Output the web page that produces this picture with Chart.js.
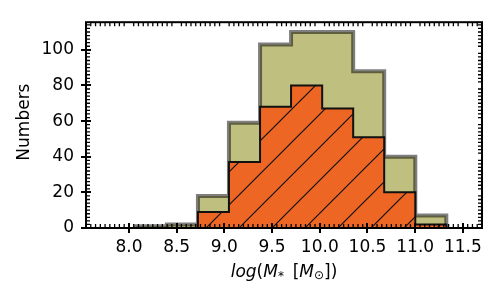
<!DOCTYPE html>
<html lang="en">
<head>
    <meta charset="UTF-8">
    <title>Stellar mass histogram</title>
    <script src="https://cdn.jsdelivr.net/npm/chart.js"></script>
    <style>
        html, body { margin: 0; padding: 0; background: #fff; }
        #wrap { width: 500px; height: 300px; }
    </style>
</head>
<body>
    <div id="wrap"><canvas id="histChart" width="500" height="300"></canvas></div>

    <script>
        // bin edges (log stellar mass) and counts
        const binEdges = [8.072, 8.398, 8.723, 9.048, 9.374, 9.699, 10.025, 10.350, 10.675, 11.001, 11.326];
        const allCounts = [1, 2, 18, 59, 103, 110, 110, 88, 40, 7];
        const subCounts = [0, 0, 9, 37, 68, 80, 67, 51, 20, 2];

        const xTicks = [8.0, 8.5, 9.0, 9.5, 10.0, 10.5, 11.0, 11.5];
        const yTicks = [0, 20, 40, 60, 80, 100];

        const FONT = 'DejaVu Sans';

        function stepPoints(edges, counts) {
            const pts = [{ x: edges[0], y: 0 }];
            counts.forEach((c, i) => pts.push({ x: edges[i], y: c }));
            pts.push({ x: edges[edges.length - 1], y: 0 });
            return pts;
        }

        // orange fill with "/" hatch
        function makeHatch() {
            const s = 33;
            const c = document.createElement('canvas');
            c.width = s; c.height = s;
            const g = c.getContext('2d');
            g.fillStyle = '#ee6624';
            g.fillRect(0, 0, s, s);
            g.strokeStyle = '#111';
            g.lineWidth = 1.2;
            g.beginPath();
            g.moveTo(-2, s + 2); g.lineTo(s + 2, -2);
            g.moveTo(-2, 2); g.lineTo(2, -2);
            g.moveTo(s - 2, s + 2); g.lineTo(s + 2, s - 2);
            g.stroke();
            const p = g.createPattern(c, 'repeat');
            if (p.setTransform) p.setTransform(new DOMMatrix().translate(5, 0));
            return p;
        }

        const decor = {
            id: 'decor',
            afterDraw(chart) {
                const ctx = chart.ctx;
                const a = chart.chartArea;
                const xs = chart.scales.x, ys = chart.scales.y;
                ctx.save();
                ctx.setTransform(1, 0, 0, 1, 0, 0);
                ctx.globalAlpha = 1;
                ctx.setLineDash([]);
                ctx.strokeStyle = '#000';

                // minor ticks, inward on all four sides
                ctx.lineWidth = 1.3;
                ctx.beginPath();
                for (let k = Math.ceil(xs.min / 0.05); k <= Math.floor(xs.max / 0.05); k++) {
                    if (k % 10 === 0) continue;
                    const px = xs.getPixelForValue(k * 0.05);
                    ctx.moveTo(px, a.bottom); ctx.lineTo(px, a.bottom - 4);
                    ctx.moveTo(px, a.top); ctx.lineTo(px, a.top + 4);
                }
                for (let v = 2; v < ys.max; v += 2) {
                    if (v % 20 === 0) continue;
                    const py = ys.getPixelForValue(v);
                    ctx.moveTo(a.left, py); ctx.lineTo(a.left + 4, py);
                    ctx.moveTo(a.right, py); ctx.lineTo(a.right - 4, py);
                }
                ctx.stroke();

                // major ticks, in-out on bottom and left
                ctx.lineWidth = 2;
                ctx.beginPath();
                xTicks.forEach(v => {
                    const px = Math.round(xs.getPixelForValue(v));
                    ctx.moveTo(px, a.bottom - 5); ctx.lineTo(px, a.bottom + 5);
                });
                yTicks.forEach(v => {
                    const py = Math.round(ys.getPixelForValue(v));
                    ctx.moveTo(a.left - 5, py); ctx.lineTo(a.left + 5, py);
                });
                ctx.stroke();

                // frame
                ctx.lineWidth = 2;
                ctx.strokeRect(a.left, a.top, a.right - a.left, a.bottom - a.top);

                // y title
                ctx.fillStyle = '#000';
                ctx.font = '17px "' + FONT + '"';
                ctx.textAlign = 'center';
                ctx.textBaseline = 'middle';
                ctx.translate(25, (a.top + a.bottom) / 2 - 3);
                ctx.rotate(-Math.PI / 2);
                ctx.fillText('Numbers', 0, 0);
                ctx.setTransform(1, 0, 0, 1, 0, 0);

                // x title: log(M_* [M_sun])
                const parts = [
                    { t: 'log', f: 'italic 17px', dy: 0 },
                    { t: '(', f: '17px', dy: 0 },
                    { t: 'M', f: 'italic 17px', dy: 0 },
                    { t: '*', f: '12px', dy: 3 },
                    { t: '\u2009 [', f: '17px', dy: 0 },
                    { t: 'M', f: 'italic 17px', dy: 0 },
                    { t: '\u2299', f: '12px', dy: 2 },
                    { t: '])', f: '17px', dy: 0 }
                ];
                ctx.textAlign = 'left';
                ctx.textBaseline = 'alphabetic';
                let w = 0;
                parts.forEach(p => {
                    ctx.font = p.f + ' "' + FONT + '"';
                    p.w = ctx.measureText(p.t).width;
                    w += p.w;
                });
                let x = (a.left + a.right) / 2 - w / 2;
                const base = 277;
                parts.forEach(p => {
                    ctx.font = p.f + ' "' + FONT + '"';
                    ctx.fillText(p.t, x, base + p.dy);
                    x += p.w;
                });
                ctx.restore();
            }
        };

        const ctx = document.getElementById('histChart').getContext('2d');
        new Chart(ctx, {
            type: 'line',
            data: {
                datasets: [
                    {
                        label: 'subset',
                        data: stepPoints(binEdges, subCounts),
                        stepped: true,
                        fill: 'origin',
                        backgroundColor: makeHatch(),
                        borderColor: '#111',
                        borderWidth: 2,
                        pointRadius: 0,
                        order: 1
                    },
                    {
                        label: 'all',
                        data: stepPoints(binEdges, allCounts),
                        stepped: true,
                        fill: 'origin',
                        backgroundColor: 'rgba(128,128,0,0.5)',
                        borderColor: 'rgba(0,0,0,0.5)',
                        borderWidth: 4,
                        pointRadius: 0,
                        order: 2
                    }
                ]
            },
            options: {
                responsive: false,
                animation: false,
                layout: { padding: { left: 0, right: 18, top: 16, bottom: 0 } },
                plugins: {
                    legend: { display: false },
                    tooltip: { enabled: false }
                },
                scales: {
                    x: {
                        type: 'linear',
                        min: 7.55,
                        max: 11.7,
                        grid: { display: false, drawTicks: false },
                        border: { display: false },
                        afterBuildTicks: s => { s.ticks = xTicks.map(v => ({ value: v })); },
                        afterFit: s => { s.height = 72; },
                        ticks: {
                            autoSkip: false,
                            maxRotation: 0,
                            padding: 9,
                            color: '#000',
                            font: { family: FONT, size: 17 },
                            callback: v => v.toFixed(1)
                        }
                    },
                    y: {
                        min: 0,
                        max: 115.5,
                        grid: { display: false, drawTicks: false },
                        border: { display: false },
                        afterBuildTicks: s => { s.ticks = yTicks.map(v => ({ value: v })); },
                        afterFit: s => { s.width = 86; },
                        ticks: {
                            padding: 12,
                            color: '#000',
                            font: { family: FONT, size: 17 }
                        }
                    }
                }
            },
            plugins: [decor]
        });
    </script>
</body>
</html>
